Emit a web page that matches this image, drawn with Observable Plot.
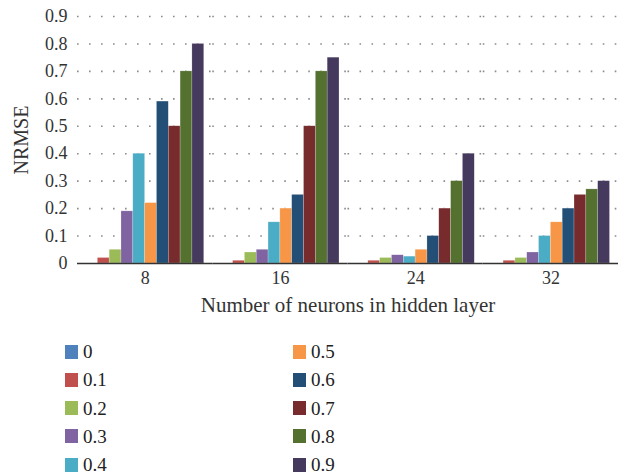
<!DOCTYPE html>
<html>
<head>
<meta charset="utf-8">
<script src="https://cdn.jsdelivr.net/npm/d3@7"></script>
<script src="https://cdn.jsdelivr.net/npm/@observablehq/plot@0.6"></script>
<style>
  body { margin: 0; background: #fff; }
  #chart { position: relative; width: 624px; height: 475px; font-family: "Liberation Serif", serif; }
  #chart svg { display: block; }
  .item { position: absolute; display: flex; align-items: center; font-family: "Liberation Serif", serif; font-size: 19px; color: #222; line-height: 1; }
  .sw { width: 13px; height: 14px; margin-right: 5px; }
</style>
</head>
<body>
<div id="chart"></div>
<script>
// Hidden-layer sizes (groups) and noise levels (series)
const neurons = ["8", "16", "24", "32"];
const levels = ["0", "0.1", "0.2", "0.3", "0.4", "0.5", "0.6", "0.7", "0.8", "0.9"];
const colors = ["#4F81BD", "#C0504D", "#9BBB59", "#8064A2", "#4BACC6",
                "#F79646", "#234F76", "#772B2D", "#54712F", "#46395E"];

// NRMSE per noise level, one array per hidden-layer size
const nrmse8  = [0, 0.02, 0.05, 0.19, 0.40, 0.22, 0.59, 0.50, 0.70, 0.80];
const nrmse16 = [0, 0.01, 0.04, 0.05, 0.15, 0.20, 0.25, 0.50, 0.70, 0.75];
const nrmse24 = [0, 0.01, 0.02, 0.03, 0.025, 0.05, 0.10, 0.20, 0.30, 0.40];
const nrmse32 = [0, 0.01, 0.02, 0.04, 0.10, 0.15, 0.20, 0.25, 0.27, 0.30];

const yTicks = [0, 0.1, 0.2, 0.3, 0.4, 0.5, 0.6, 0.7, 0.8, 0.9];

const series = [nrmse8, nrmse16, nrmse24, nrmse32];
const rows = neurons.flatMap((n, i) =>
  levels.map((lv, j) => ({neurons: n, level: lv, value: series[i][j]})));

const serif = "Liberation Serif, serif";

const plot = Plot.plot({
  width: 624,
  height: 325,
  marginLeft: 77,
  marginRight: 6,
  marginTop: 16,
  marginBottom: 62,
  style: {fontFamily: serif, fontSize: "18px", color: "#333", background: "white", overflow: "visible"},
  fx: {domain: neurons, padding: 0, round: false},
  x: {domain: levels, paddingInner: 0, paddingOuter: 0.72, round: false, axis: null},
  y: {domain: [0, 0.9]},
  color: {domain: levels, range: colors},
  marks: [
    Plot.ruleY(yTicks.slice(1), {stroke: "#8a8a8a", strokeWidth: 1.6, strokeDasharray: "1.6,10.4"}),
    Plot.barY(rows, {
      fx: "neurons", x: "level", y: "value", fill: "level",
      stroke: "#ffffff", strokeOpacity: 0.4, strokeWidth: 0.5, inset: 0
    }),
    Plot.ruleY([0], {stroke: "#333", strokeWidth: 1.4}),
    // y tick labels
    Plot.axisY({
      ticks: yTicks, tickSize: 0, tickPadding: 10,
      fontSize: 18, fontFamily: serif, label: null,
      tickFormat: d => d === 0 ? "0" : d3.format(".1f")(d)
    }),
    // y axis title
    Plot.axisY({
      ticks: [], tickSize: 0, fontSize: 20, fontFamily: serif,
      label: "NRMSE", labelAnchor: "center", labelArrow: "none", labelOffset: 64
    }),
    // group labels
    Plot.axisFx({
      anchor: "bottom", tickSize: 0, tickPadding: 8,
      fontSize: 18, fontFamily: serif, label: null
    }),
    // x axis title
    Plot.axisFx({
      anchor: "bottom", ticks: [], tickSize: 0, fontSize: 21, fontFamily: serif,
      label: "Number of neurons in hidden layer", labelAnchor: "center",
      labelArrow: "none", labelOffset: 48
    })
  ]
});

const chart = document.getElementById("chart");
chart.appendChild(plot);

// Two-column legend below the plot
levels.forEach((lv, i) => {
  const col = Math.floor(i / 5), row = i % 5;
  const item = document.createElement("div");
  item.className = "item";
  item.style.left = (col === 0 ? 65 : 293) + "px";
  item.style.top = (342 + row * 28.3) + "px";
  const sw = document.createElement("span");
  sw.className = "sw";
  sw.style.background = colors[i];
  const tx = document.createElement("span");
  tx.textContent = lv;
  item.appendChild(sw);
  item.appendChild(tx);
  chart.appendChild(item);
});
</script>
</body>
</html>
